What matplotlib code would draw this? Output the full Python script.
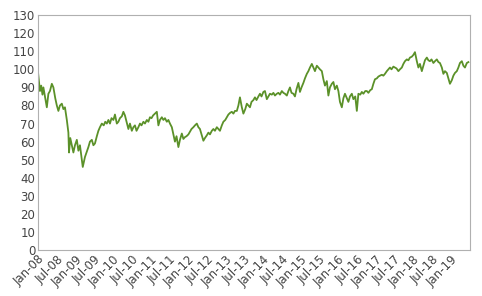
import matplotlib
matplotlib.use("Agg")
import matplotlib.pyplot as plt

# months elapsed since Jan 2008 and the index level
months = [
    0.0, 0.3, 0.6, 1.0, 1.4, 1.7, 2.2, 2.8, 3.3, 3.8, 4.4, 4.9, 5.5, 6.0, 6.5, 7.0,
    7.6, 8.1, 8.6, 9.2, 9.7, 9.9, 10.3, 10.8, 11.3, 11.8, 12.4, 12.9, 13.4, 14.0, 14.3, 15.0,
    15.5, 16.1, 16.6, 17.2, 17.7, 18.2, 18.8, 19.3, 19.8, 20.4, 21.0, 21.5, 22.0, 22.5, 23.0, 23.5,
    24.1, 24.6, 25.2, 25.7, 26.2, 26.8, 27.3, 27.8, 28.3, 28.9, 29.4, 30.0, 30.5, 31.0, 31.5, 32.1,
    32.6, 33.1, 33.7, 34.2, 34.8, 35.3, 35.8, 36.3, 36.8, 37.4, 38.0, 38.5, 39.0, 39.6, 40.1, 40.6,
    41.2, 41.7, 42.2, 42.8, 43.3, 43.8, 44.3, 44.9, 45.4, 46.0, 46.5, 47.0, 47.5, 48.1, 48.6, 49.1,
    49.7, 50.2, 50.8, 51.3, 51.8, 52.3, 52.9, 53.4, 54.0, 54.5, 55.0, 55.6, 56.1, 56.6, 57.2, 57.7,
    58.2, 58.8, 59.3, 59.9, 60.4, 60.9, 61.5, 62.0, 62.5, 63.0, 63.6, 64.1, 64.6, 65.2, 65.7, 66.3,
    66.8, 67.3, 67.8, 68.3, 68.9, 69.4, 69.9, 70.5, 71.0, 71.5, 72.1, 72.6, 73.2, 73.7, 74.2, 74.8,
    75.3, 75.8, 76.4, 76.9, 77.4, 78.0, 78.5, 79.0, 79.6, 80.1, 80.6, 81.1, 81.7, 82.2, 82.7, 83.3,
    83.8, 84.3, 84.9, 85.4, 86.0, 86.5, 87.0, 87.6, 88.1, 88.6, 89.2, 89.7, 90.2, 90.8, 91.3, 91.8,
    92.4, 92.9, 93.4, 94.0, 94.5, 95.0, 95.6, 96.1, 96.6, 97.2, 97.7, 98.2, 98.8, 99.3, 99.8, 100.4,
    100.9, 101.5, 102.0, 102.5, 103.1, 103.6, 104.1, 104.7, 105.2, 105.7, 106.3, 106.8, 107.3, 107.8, 108.4, 108.9,
    109.4, 110.0, 110.5, 111.0, 111.6, 112.1, 112.6, 113.1, 113.7, 114.2, 114.7, 115.3, 115.8, 116.4, 116.9, 117.4,
    118.0, 118.5, 119.0, 119.6, 120.1, 120.6, 121.2, 121.7, 122.2, 122.8, 123.3, 123.8, 124.4, 124.9, 125.4, 125.9,
    126.5, 127.0, 127.6, 128.1, 128.6, 129.2, 129.7, 130.2, 130.8, 131.3, 131.8, 132.4, 132.9, 133.4, 134.0, 134.5,
    135.0, 135.6, 136.1, 136.6, 137.2, 137.7,
]
values = [
    98, 93, 88, 91, 86, 90, 85, 79, 86.5, 88, 92, 90, 84, 80, 77, 80,
    81, 78, 79, 72, 65, 54, 62, 58, 54, 58, 61, 55, 58, 50, 46, 51.5,
    54, 57, 60, 61, 58, 59, 63, 66, 68, 70, 69, 71, 70, 72, 70, 73,
    72, 75, 70, 71, 73, 74, 76.5, 74.5, 71, 67, 70, 66, 68, 69, 66, 68,
    70, 69, 71, 70, 72, 71, 73.5, 73, 74.5, 75.5, 76.5, 69, 72, 73.5, 72, 73,
    71, 72, 70, 68, 64, 60, 63, 57, 61, 64.5, 61.5, 62.5, 63, 64, 65.5, 67,
    68, 69, 70, 68, 67, 64, 60.5, 62, 63.5, 65, 64, 66, 67, 66, 68, 67,
    66, 69, 71, 72, 73.5, 75, 76, 76.5, 75.5, 77, 77, 80, 84.5, 79, 75.5, 78,
    81, 80, 79, 82, 83, 84.5, 83, 85, 86.5, 85, 87.5, 88, 83.5, 85, 86.5, 86,
    87, 85.5, 86.5, 87, 86, 88, 87, 86.5, 85.5, 88, 90, 87, 86.5, 85, 89, 92.5,
    87.5, 90, 92.5, 95, 97.5, 99, 101, 103, 101, 99, 102, 101, 100, 99, 94.5, 91,
    93.5, 85.5, 90, 92, 93, 89, 91, 88, 82, 79, 84, 86.5, 84, 82, 85, 86.5,
    83.5, 85, 77, 86.5, 86, 87.5, 86.5, 88, 88, 87, 88.5, 89, 92, 94.5, 95, 96,
    96.5, 97, 96.5, 97.5, 99, 100, 101, 100, 101.5, 101, 100.5, 99, 100, 101, 103, 104.5,
    105.5, 105, 106.5, 107, 108, 109.5, 104.5, 101, 103, 99, 102, 105, 106.5, 105, 104.5, 105.5,
    103.5, 104.5, 105.5, 104, 103.5, 101, 97.5, 99, 98, 95, 92, 94, 96.5, 98, 99, 101,
    103.5, 104.5, 102, 101, 103.5, 104,
]

tick_months = list(range(0, 133, 6))
tick_labels = [f"{m}-{y:02d}" for y in range(8, 20) for m in ("Jan", "Jul")][:len(tick_months)]
y_ticks = list(range(0, 131, 10))

fig = plt.figure(figsize=(4.82, 2.96), dpi=100)
ax = fig.add_axes([0.079, 0.155, 0.896, 0.794])

ax.plot(months, values, color="#5b9129", linewidth=1.3)

ax.set_xlim(0, 138.2)
ax.set_ylim(0, 130)
ax.set_yticks(y_ticks)
ax.set_xticks(tick_months)
ax.set_xticklabels(tick_labels, rotation=45, ha="right", rotation_mode="anchor")
ax.tick_params(axis="both", length=0, labelsize=8.5, labelcolor="#444444", pad=2)

for side in ax.spines.values():
    side.set_color("#b0b0b0")
    side.set_linewidth(0.8)

fig.savefig("out.png", dpi=100)
